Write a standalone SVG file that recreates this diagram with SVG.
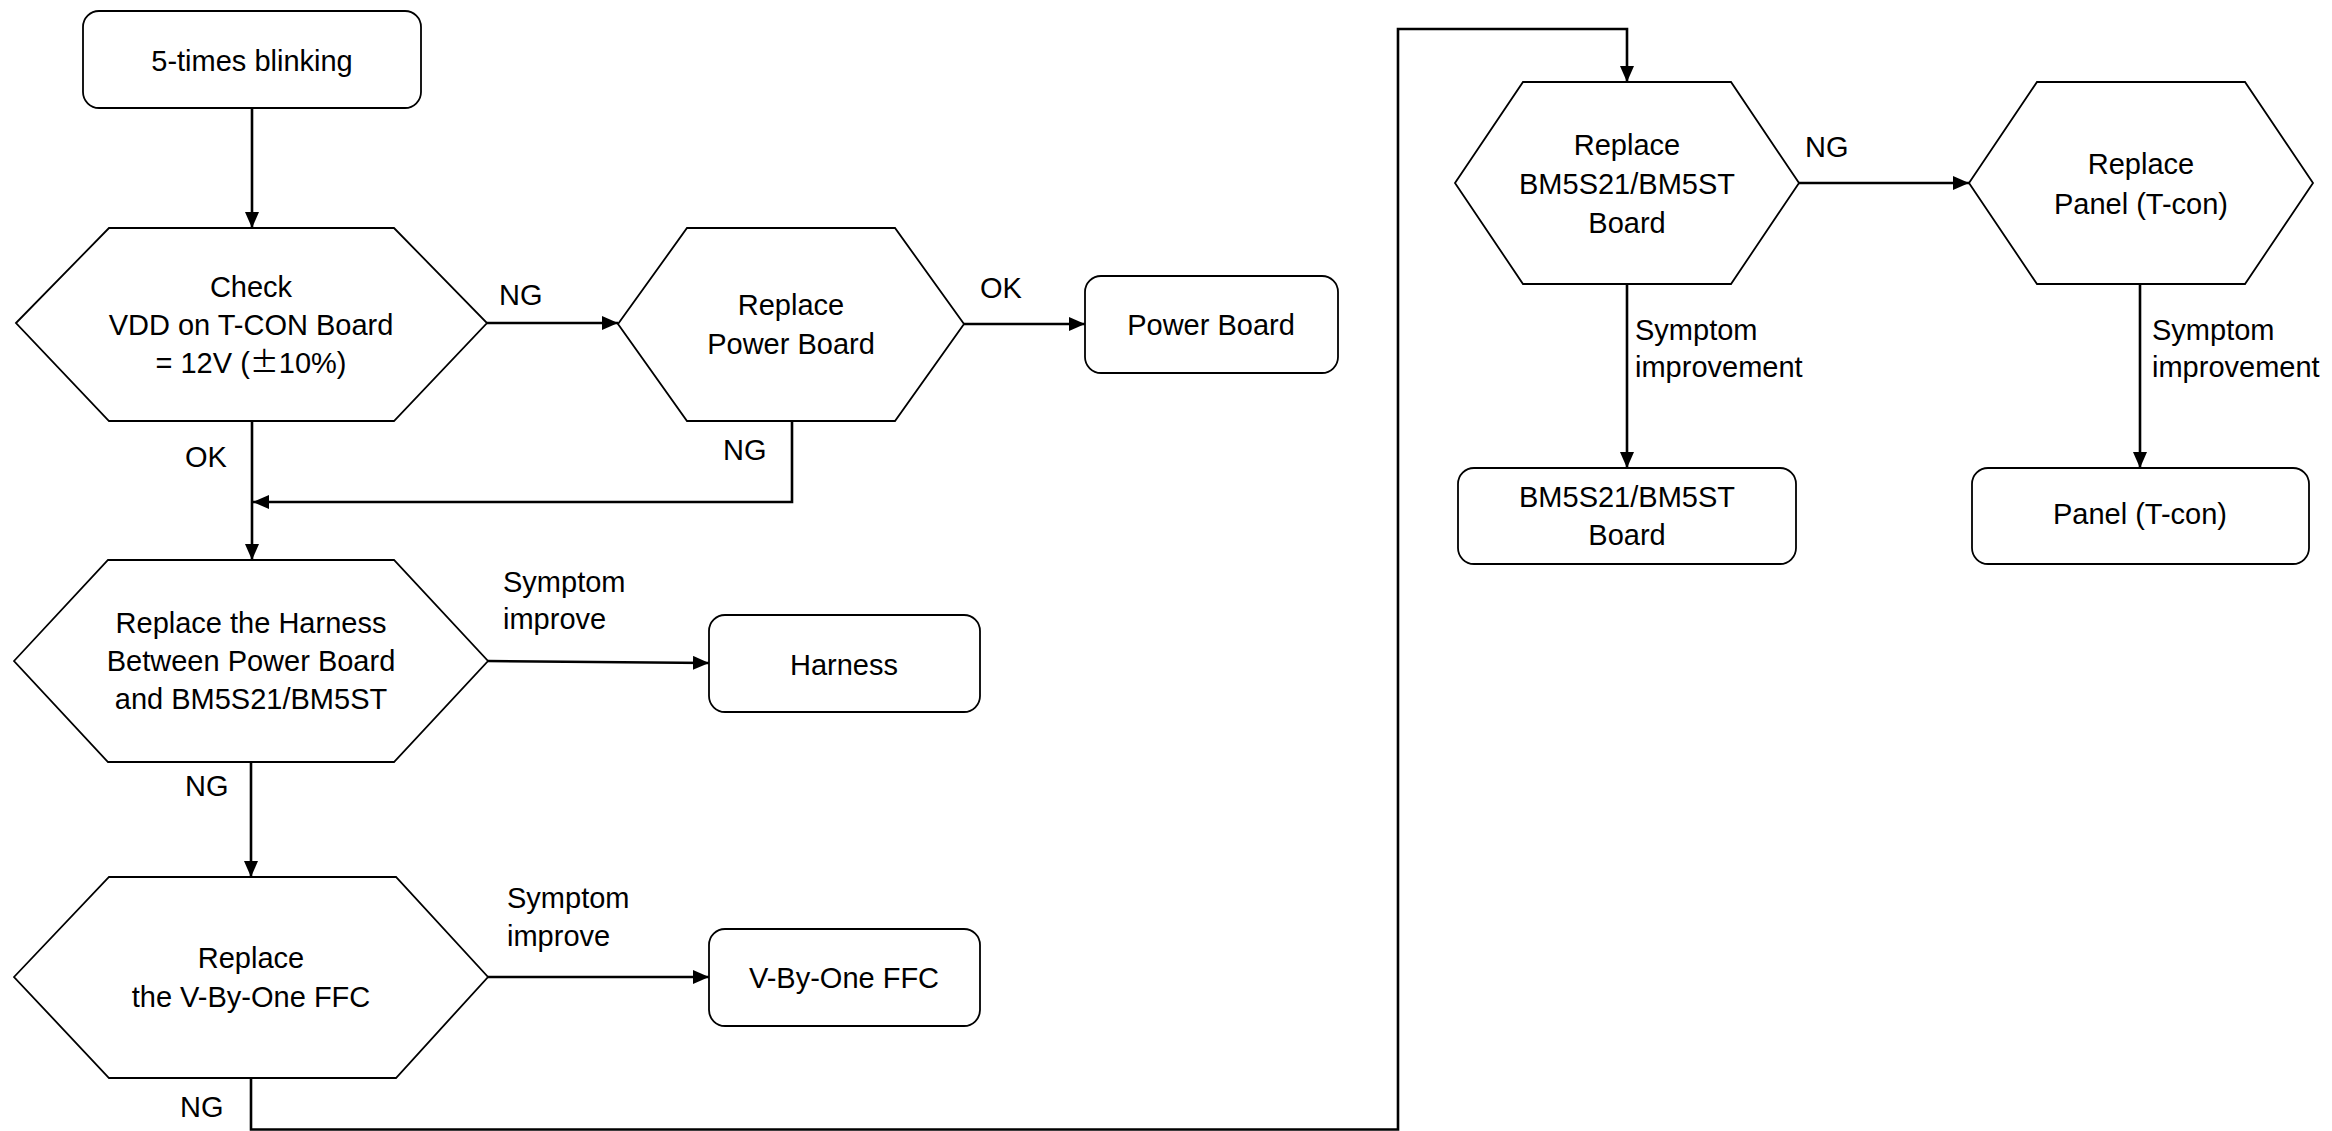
<svg xmlns="http://www.w3.org/2000/svg" width="2332" height="1131" viewBox="0 0 2332 1131">
<style>
.n{fill:#fff;stroke:#000;stroke-width:1.8}
.t{font-family:"Liberation Sans",Arial,sans-serif;font-size:29px;fill:#000;text-anchor:middle}
.l{font-family:"Liberation Sans",Arial,sans-serif;font-size:29px;fill:#000}
.c{fill:none;stroke:#000;stroke-width:2.6;marker-end:url(#arr)}
</style>
<defs>
<marker id="arr" viewBox="0 0 16 14" refX="16" refY="7" markerWidth="16" markerHeight="14" orient="auto" markerUnits="userSpaceOnUse">
<path d="M0,0 L16,7 L0,14 z" fill="#000"/>
</marker>
</defs>
<rect width="2332" height="1131" fill="#fff"/>
<g id="connectors">
<path class="c" d="M252,108 V228"/>
<path class="c" d="M487,323 H618"/>
<path class="c" d="M964,324 H1085"/>
<path class="c" d="M792,421 V502 H253"/>
<path class="c" d="M252,421 V560"/>
<path class="c" d="M488,661 L709,663"/>
<path class="c" d="M251,762 V877"/>
<path class="c" d="M488,977 H709"/>
<path class="c" d="M251,1078 V1129.5 H1398 V29 H1627 V82"/>
<path class="c" d="M1799,183 H1969"/>
<path class="c" d="M1627,284 V468"/>
<path class="c" d="M2140,284 V468"/>
</g>
<g id="labels">
<text class="l" x="499" y="305">NG</text>
<text class="l" x="980" y="298">OK</text>
<text class="l" x="723" y="460">NG</text>
<text class="l" x="185" y="467">OK</text>
<text class="l" x="503" y="592">Symptom</text>
<text class="l" x="503" y="629">improve</text>
<text class="l" x="185" y="796">NG</text>
<text class="l" x="507" y="908">Symptom</text>
<text class="l" x="507" y="946">improve</text>
<text class="l" x="180" y="1117">NG</text>
<text class="l" x="1805" y="157">NG</text>
<text class="l" x="1635" y="340">Symptom</text>
<text class="l" x="1635" y="377">improvement</text>
<text class="l" x="2152" y="340">Symptom</text>
<text class="l" x="2152" y="377">improvement</text>
</g>
<g id="start">
<rect class="n" x="83" y="11" width="338" height="97" rx="16"/>
<text class="t" x="252" y="71">5-times blinking</text>
</g>
<g id="check">
<polygon class="n" points="16,323 109,228 394,228 487,323 394,421 109,421"/>
<text class="t" x="251" y="297">Check</text>
<text class="t" x="251" y="335">VDD on T-CON Board</text>
<text class="t" x="251" y="373">= 12V (<tspan font-family="'Noto Sans CJK SC',sans-serif">±</tspan>10%)</text>
</g>
<g id="replace-power">
<polygon class="n" points="618,324 687,228 895,228 964,324 895,421 687,421"/>
<text class="t" x="791" y="315">Replace</text>
<text class="t" x="791" y="354">Power Board</text>
</g>
<g id="power-board">
<rect class="n" x="1085" y="276" width="253" height="97" rx="16"/>
<text class="t" x="1211" y="335">Power Board</text>
</g>
<g id="replace-harness">
<polygon class="n" points="14,661 108,560 394,560 488,661 394,762 108,762"/>
<text class="t" x="251" y="633">Replace the Harness</text>
<text class="t" x="251" y="671">Between Power Board</text>
<text class="t" x="251" y="709">and BM5S21/BM5ST</text>
</g>
<g id="harness">
<rect class="n" x="709" y="615" width="271" height="97" rx="16"/>
<text class="t" x="844" y="675">Harness</text>
</g>
<g id="replace-vbyone">
<polygon class="n" points="14,977 109,877 396,877 488,977 396,1078 109,1078"/>
<text class="t" x="251" y="968">Replace</text>
<text class="t" x="251" y="1007">the V-By-One FFC</text>
</g>
<g id="vbyone">
<rect class="n" x="709" y="929" width="271" height="97" rx="16"/>
<text class="t" x="844" y="988">V-By-One FFC</text>
</g>
<g id="replace-bm">
<polygon class="n" points="1455,183 1523,82 1731,82 1799,183 1731,284 1523,284"/>
<text class="t" x="1627" y="155">Replace</text>
<text class="t" x="1627" y="194">BM5S21/BM5ST</text>
<text class="t" x="1627" y="233">Board</text>
</g>
<g id="replace-panel">
<polygon class="n" points="1969,183 2037,82 2245,82 2313,183 2245,284 2037,284"/>
<text class="t" x="2141" y="174">Replace</text>
<text class="t" x="2141" y="214">Panel (T-con)</text>
</g>
<g id="bm-board">
<rect class="n" x="1458" y="468" width="338" height="96" rx="16"/>
<text class="t" x="1627" y="507">BM5S21/BM5ST</text>
<text class="t" x="1627" y="545">Board</text>
</g>
<g id="panel">
<rect class="n" x="1972" y="468" width="337" height="96" rx="16"/>
<text class="t" x="2140" y="524">Panel (T-con)</text>
</g>
</svg>
